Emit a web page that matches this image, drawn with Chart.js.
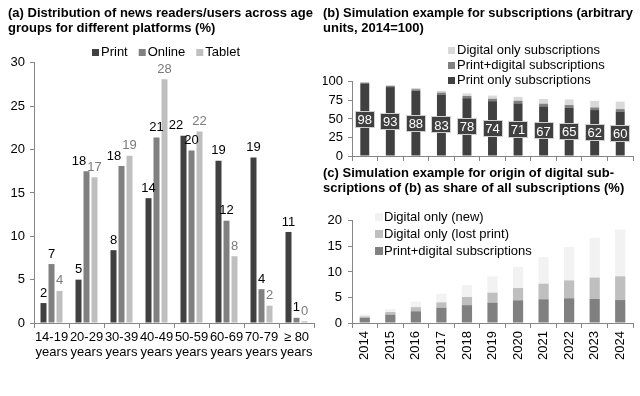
<!DOCTYPE html>
<html><head><meta charset="utf-8">
<script src="https://cdn.jsdelivr.net/npm/chart.js@4.4.1/dist/chart.umd.min.js"></script>
<style>
html,body{margin:0;padding:0;background:#fff;}
#wrap{position:relative;width:640px;height:396px;overflow:hidden;background:#fff;}
.c{position:absolute;}
</style></head><body>
<div id="wrap">
<div class="c" style="left:0;top:0;width:320px;height:396px"><canvas id="ca"></canvas></div>
<div class="c" style="left:320px;top:0;width:320px;height:170px"><canvas id="cb"></canvas></div>
<div class="c" style="left:320px;top:160px;width:320px;height:236px"><canvas id="cc"></canvas></div>
</div>
<script>
// ---- Panel (a) data ----
const ageGroups = [["14-19","years"],["20-29","years"],["30-39","years"],["40-49","years"],["50-59","years"],["60-69","years"],["70-79","years"],["\u2265 80","years"]];
const printShare  = [2.3, 5.0, 8.4, 14.4, 21.6, 18.7, 19.1, 10.5];
const onlineShare = [6.8, 17.5, 18.1, 21.4, 19.9, 11.8, 3.9, 0.6];
const tabletShare = [3.7, 16.8, 19.3, 28.1, 22.1, 7.7, 2.0, 0.2];
const ticksA = [0, 5, 10, 15, 20, 25, 30];

// ---- Panel (b) data ----
const years = ["2014","2015","2016","2017","2018","2019","2020","2021","2022","2023","2024"];
const printOnlySubs    = [98, 93, 88, 83, 78, 74, 71, 67, 65, 62, 60];
const printDigitalSubs = [1.0, 1.6, 2.1, 2.6, 3.0, 3.3, 3.6, 3.6, 3.7, 3.5, 3.3];
const digitalOnlySubs  = [0.65, 1.05, 1.75, 2.4, 3.3, 4.2, 5.2, 6.35, 7.7, 8.9, 10.1];
const ticksB = [0, 25, 50, 75, 100];

// ---- Panel (c) data ----
const sharePrintDigital = [1.0, 1.65, 2.3, 3.0, 3.5, 4.0, 4.45, 4.65, 4.85, 4.7, 4.5];
const shareLostPrint    = [0.3, 0.5, 0.8, 1.05, 1.6, 1.95, 2.4, 3.05, 3.5, 4.2, 4.65];
const shareNewDigital   = [0.35, 0.6, 1.1, 1.7, 2.35, 3.2, 4.15, 5.2, 6.5, 7.8, 9.15];
const ticksC = [0, 5, 10, 15, 20];

const FONT = '"Liberation Sans", Arial, sans-serif';
Chart.defaults.font.family = FONT;
Chart.defaults.font.size = 13;
Chart.defaults.color = '#000';
const AXIS = '#868686';

const customLegend = {
  id: 'customLegend',
  afterDraw(chart, args, o) {
    if (!o || !o.show) return;
    const ctx = chart.ctx;
    ctx.save();
    ctx.font = '13px ' + FONT;
    ctx.textBaseline = 'middle';
    ctx.textAlign = 'left';
    let x = o.x, y = o.y;
    const list = o.reverse ? chart.data.datasets.slice().reverse() : chart.data.datasets;
    list.forEach(ds => {
      ctx.fillStyle = ds.backgroundColor;
      ctx.fillRect(x, Math.round(y - o.box / 2), o.box, o.box);
      ctx.fillStyle = '#000';
      ctx.fillText(ds.label, x + o.box + o.gap, y + 0.5);
      if (o.vertical) y += o.row;
      else x += o.box + o.gap + ctx.measureText(ds.label).width + o.itemGap;
    });
    ctx.restore();
  }
};

const barLabelsA = {
  id: 'barLabelsA',
  afterDatasetsDraw(chart, args, o) {
    if (!o || !o.show) return;
    const ctx = chart.ctx;
    ctx.save();
    ctx.font = '13px ' + FONT;
    ctx.textBaseline = 'middle';
    ctx.textAlign = 'center';
    const n = chart.data.labels.length;
    for (let j = 0; j < n; j++) {
      const items = chart.data.datasets.map((ds, i) => {
        const el = chart.getDatasetMeta(i).data[j];
        const text = String(Math.round(ds.data[j]));
        return { text, x: el.x, y: el.y - 10, w: ctx.measureText(text).width, color: ds.labelColor };
      });
      for (let i = items.length - 2; i >= 0; i--) {
        const a = items[i], b = items[i + 1];
        const ov = (a.x + a.w / 2 + 1) - (b.x - b.w / 2);
        if (Math.abs(a.y - b.y) < 15 && ov > 0) a.x -= ov;
      }
      items.forEach(it => { ctx.fillStyle = it.color; ctx.fillText(it.text, it.x, it.y); });
    }
    ctx.restore();
  }
};

const boxLabelsB = {
  id: 'boxLabelsB',
  afterDatasetsDraw(chart, args, o) {
    if (!o || !o.show) return;
    const ctx = chart.ctx;
    ctx.save();
    ctx.font = '13px ' + FONT;
    ctx.textBaseline = 'middle';
    ctx.textAlign = 'center';
    const ds = chart.data.datasets[0];
    chart.getDatasetMeta(0).data.forEach((el, j) => {
      const text = String(Math.round(ds.data[j]));
      const w = Math.round(ctx.measureText(text).width + 6), h = 17;
      const cx = el.x, cy = (el.y + el.base) / 2;
      const lx = Math.round(cx - w / 2), ty = Math.round(cy - h / 2);
      ctx.fillStyle = '#404040';
      ctx.fillRect(lx, ty, w, h);
      ctx.strokeStyle = '#cfcfcf';
      ctx.lineWidth = 1;
      ctx.strokeRect(lx + 0.5, ty + 0.5, w - 1, h - 1);
      ctx.fillStyle = '#fff';
      ctx.fillText(text, cx, cy + 1);
    });
    ctx.restore();
  }
};

function yScale(ticksArr, width, pad, stacked) {
  return {
    stacked: !!stacked,
    min: ticksArr[0], max: ticksArr[ticksArr.length - 1],
    afterBuildTicks: s => { s.ticks = ticksArr.map(v => ({ value: v })); },
    afterFit: s => { s.width = width; },
    grid: { display: true, drawOnChartArea: false, drawTicks: true, tickLength: 4, color: AXIS, lineWidth: 1 },
    border: { display: true, color: AXIS, width: 1 },
    ticks: { color: '#000', font: { size: 13 }, padding: pad, autoSkip: false }
  };
}
function xScale(height, tickOpts, stacked) {
  return {
    stacked: !!stacked,
    afterFit: s => { s.height = height; },
    grid: { display: true, offset: true, drawOnChartArea: false, drawTicks: true, tickLength: 5, color: AXIS, lineWidth: 1 },
    border: { display: true, color: AXIS, width: 1 },
    ticks: Object.assign({ color: '#000', font: { size: 13, lineHeight: 1.15 }, autoSkip: false }, tickOpts)
  };
}
const titleFont = { size: 13, weight: 'bold', lineHeight: 1.15 };

// ---- Chart (a) ----
new Chart(document.getElementById('ca'), {
  type: 'bar',
  data: {
    labels: ageGroups,
    datasets: [
      { label: 'Print', data: printShare, backgroundColor: '#404040', labelColor: '#000' },
      { label: 'Online', data: onlineShare, backgroundColor: '#808080', labelColor: '#000' },
      { label: 'Tablet', data: tabletShare, backgroundColor: '#bfbfbf', labelColor: '#7a7a7a' }
    ]
  },
  plugins: [customLegend, barLabelsA],
  options: {
    responsive: true, maintainAspectRatio: false, animation: false,
    layout: { padding: { left: 8, right: 6, top: 0, bottom: 0 } },
    datasets: { bar: { categoryPercentage: 0.686, barPercentage: 0.75 } },
    plugins: {
      legend: { display: false }, tooltip: { enabled: false },
      title: { display: true, align: 'start', color: '#000', font: titleFont,
        text: ['(a) Distribution of news readers/users across age', 'groups for different platforms (%)'],
        padding: { top: 6, bottom: 27 } },
      customLegend: { show: true, x: 92, y: 52, box: 7, gap: 2, itemGap: 11, vertical: false },
      barLabelsA: { show: true }
    },
    scales: {
      x: xScale(73, { padding: 2, maxRotation: 0, minRotation: 0 }),
      y: yScale(ticksA, 26, 5)
    }
  }
});

// ---- Chart (b) ----
new Chart(document.getElementById('cb'), {
  type: 'bar',
  data: {
    labels: years,
    datasets: [
      { label: 'Print only subscriptions', data: printOnlySubs, backgroundColor: '#404040' },
      { label: 'Print+digital subscriptions', data: printDigitalSubs, backgroundColor: '#808080' },
      { label: 'Digital only subscriptions', data: digitalOnlySubs, backgroundColor: '#d9d9d9' }
    ]
  },
  plugins: [customLegend, boxLabelsB],
  options: {
    responsive: true, maintainAspectRatio: false, animation: false,
    layout: { padding: { left: 3, right: 7, top: 0, bottom: 0 } },
    datasets: { bar: { categoryPercentage: 1, barPercentage: 0.35 } },
    plugins: {
      legend: { display: false }, tooltip: { enabled: false },
      title: { display: true, align: 'start', color: '#000', font: titleFont,
        text: ['(b) Simulation example for subscriptions (arbitrary', 'units, 2014=100)'],
        padding: { top: 6, bottom: 46 } },
      customLegend: { show: true, x: 128, y: 50, box: 7, gap: 2, row: 15, vertical: true, reverse: true },
      boxLabelsB: { show: true }
    },
    scales: {
      x: xScale(14, { display: false }, true),
      y: yScale(ticksB, 29, 5, true)
    }
  }
});

// ---- Chart (c) ----
new Chart(document.getElementById('cc'), {
  type: 'bar',
  data: {
    labels: years,
    datasets: [
      { label: 'Print+digital subscriptions', data: sharePrintDigital, backgroundColor: '#808080' },
      { label: 'Digital only (lost print)', data: shareLostPrint, backgroundColor: '#bfbfbf' },
      { label: 'Digital only (new)', data: shareNewDigital, backgroundColor: '#f2f2f2' }
    ]
  },
  plugins: [customLegend],
  options: {
    responsive: true, maintainAspectRatio: false, animation: false,
    layout: { padding: { left: 3, right: 7, top: 0, bottom: 0 } },
    datasets: { bar: { categoryPercentage: 1, barPercentage: 0.4 } },
    plugins: {
      legend: { display: false }, tooltip: { enabled: false },
      title: { display: true, align: 'start', color: '#000', font: titleFont,
        text: ['(c) Simulation example for origin of digital sub-', 'scriptions of (b) as share of all subscriptions (%)'],
        padding: { top: 6, bottom: 25 } },
      customLegend: { show: true, x: 55, y: 57, box: 8, gap: 1, row: 17, vertical: true, reverse: true }
    },
    scales: {
      x: xScale(73, { padding: 3, maxRotation: 90, minRotation: 90 }, true),
      y: yScale(ticksC, 29, 6, true)
    }
  }
});
</script>
</body></html>
